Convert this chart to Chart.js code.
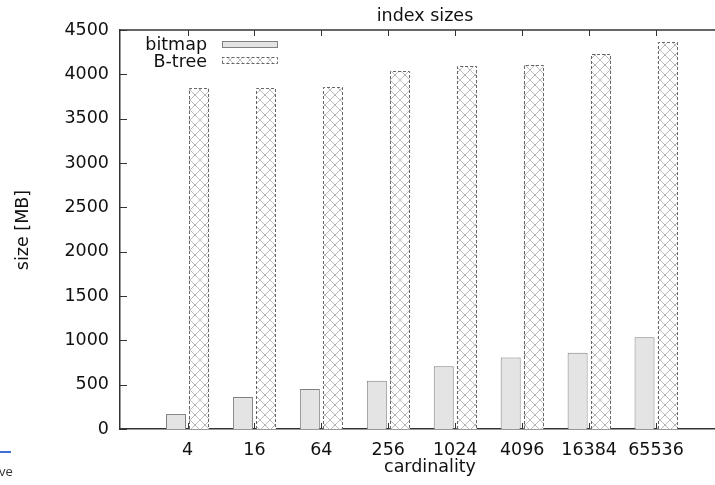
<!DOCTYPE html>
<html>
<head>
<meta charset="utf-8">
<script src="https://cdn.jsdelivr.net/npm/chart.js@4.4.1/dist/chart.umd.min.js"></script>
<style>
  html, body { margin: 0; padding: 0; background: #fff; }
  #wrap { position: relative; width: 715px; height: 485px; overflow: hidden; }
  #chart { display: block; }
  .edge-line { position: absolute; left: 0; top: 451px; width: 11px; height: 2px; background: #3d6fd6; }
  .edge-text { position: absolute; left: -1px; top: 465px; font: 13px/13px "Open Sans", sans-serif; color: #333; }
</style>
</head>
<body>
<div id="wrap">
  <canvas id="chart" width="715" height="485"></canvas>
  <div class="edge-line"></div>
  <div class="edge-text">ve</div>
</div>
<script>
const categories = ['4', '16', '64', '256', '1024', '4096', '16384', '65536'];
const bitmapSizes = [170, 360, 450, 545, 707, 805, 860, 1035];
const btreeSizes = [3843, 3843, 3858, 4034, 4091, 4102, 4230, 4362];
const yTicks = [0, 500, 1000, 1500, 2000, 2500, 3000, 3500, 4000, 4500];

const FONT = '"DejaVu Sans", sans-serif';
const FONT_SIZE = 17.5;
const AXIS_COLOR = '#333';

// crosshatch fill like gnuplot's pattern
function hatch() {
  const c = document.createElement('canvas');
  c.width = 10; c.height = 10;
  const g = c.getContext('2d');
  g.fillStyle = '#fff';
  g.fillRect(0, 0, 10, 10);
  g.strokeStyle = '#bdbdbd';
  g.lineWidth = 1;
  g.beginPath();
  g.moveTo(-1, -1); g.lineTo(11, 11);
  g.moveTo(11, -1); g.lineTo(-1, 11);
  g.stroke();
  g.fillStyle = '#a0a0a0';
  g.fillRect(4.5, 4.5, 1, 1);
  return g.createPattern(c, 'repeat');
}

const ctx0 = document.getElementById('chart');
const hatchFill = hatch();

const points = (vals) => vals.map((v, i) => ({ x: i, y: v }));

function dashedBox(ctx, l, t, r, b, withBottom) {
  ctx.save();
  ctx.strokeStyle = '#666';
  ctx.lineWidth = 1;
  ctx.setLineDash([3, 2]);
  ctx.beginPath();
  ctx.moveTo(l, b); ctx.lineTo(l, t); ctx.lineTo(r, t); ctx.lineTo(r, b);
  if (withBottom) ctx.lineTo(l, b);
  ctx.stroke();
  ctx.restore();
}

const btreeOutline = {
  id: 'btreeOutline',
  afterDatasetsDraw(chart) {
    const meta = chart.getDatasetMeta(1);
    meta.data.forEach((bar) => {
      const { x, y, width, base } = bar.getProps(['x', 'y', 'width', 'base'], true);
      const l = Math.round(x - width / 2) + 0.5;
      const r = Math.round(x + width / 2) - 0.5;
      dashedBox(chart.ctx, l, Math.round(y) + 0.5, r, base, false);
    });
  }
};

const frame = {
  id: 'frame',
  afterDraw(chart) {
    const { ctx, chartArea: a, scales: { x, y } } = chart;
    ctx.save();
    ctx.strokeStyle = AXIS_COLOR;
    ctx.lineWidth = 1.5;
    ctx.beginPath();
    ctx.moveTo(a.left, a.top); ctx.lineTo(a.right, a.top);
    ctx.stroke();

    // inward tick marks
    ctx.lineWidth = 1;
    ctx.beginPath();
    yTicks.forEach((v) => {
      const py = Math.round(y.getPixelForValue(v)) + 0.5;
      ctx.moveTo(a.left, py); ctx.lineTo(a.left + 7, py);
    });
    categories.forEach((_, i) => {
      const px = Math.round(x.getPixelForValue(i)) + 0.5;
      ctx.moveTo(px, a.top); ctx.lineTo(px, a.top + 6);
      ctx.moveTo(px, a.bottom); ctx.lineTo(px, a.bottom - 6);
    });
    ctx.stroke();

    // titles
    ctx.fillStyle = '#111';
    ctx.font = `${FONT_SIZE}px ${FONT}`;
    ctx.textAlign = 'center';
    ctx.textBaseline = 'alphabetic';
    ctx.fillText('index sizes', 425, 21);
    ctx.fillText('cardinality', 430, 472);
    ctx.save();
    ctx.translate(28, 230);
    ctx.rotate(-Math.PI / 2);
    ctx.fillText('size [MB]', 0, 0);
    ctx.restore();

    // legend, gnuplot style: label left, sample right
    const ds = chart.data.datasets;
    ctx.textAlign = 'right';
    ctx.fillText(ds[0].label, 207, 50);
    ctx.fillText(ds[1].label, 207, 67);
    ctx.fillStyle = ds[0].backgroundColor;
    ctx.fillRect(222, 41, 56, 7);
    ctx.strokeStyle = ds[0].borderColor;
    ctx.strokeRect(222.5, 41.5, 55, 6);
    ctx.fillStyle = hatchFill;
    ctx.fillRect(222, 57, 56, 7);
    ctx.restore();
    dashedBox(ctx, 222.5, 57.5, 277.5, 63.5, true);
  }
};

new Chart(ctx0, {
  type: 'bar',
  data: {
    datasets: [
      {
        label: 'bitmap',
        data: points(bitmapSizes),
        backgroundColor: '#e4e4e4',
        borderColor: '#808080',
        borderWidth: 1,
        categoryPercentage: 0.687,
        barPercentage: 0.87,
      },
      {
        label: 'B-tree',
        data: points(btreeSizes),
        backgroundColor: hatchFill,
        borderWidth: 0,
        categoryPercentage: 0.687,
        barPercentage: 0.87,
      },
    ],
  },
  options: {
    responsive: false,
    animation: false,
    devicePixelRatio: 1,
    layout: { padding: { top: 30, left: 0, right: 0, bottom: 0 } },
    plugins: {
      legend: { display: false },
      title: { display: false },
      tooltip: { enabled: false },
    },
    scales: {
      x: {
        type: 'linear',
        min: -1.0085,
        max: 7.881,
        offset: false,
        z: 1,
        grid: { display: false, drawTicks: false },
        border: { display: true, color: AXIS_COLOR, width: 1.5 },
        afterBuildTicks: (axis) => { axis.ticks = categories.map((_, i) => ({ value: i })); },
        afterFit: (axis) => { axis.height = 56; },
        ticks: {
          autoSkip: false,
          maxRotation: 0,
          padding: 11,
          color: '#111',
          font: { family: FONT, size: FONT_SIZE },
          callback: (v) => categories[v] ?? '',
        },
      },
      y: {
        min: 0,
        max: 4500,
        z: 1,
        grid: { display: false, drawTicks: false },
        border: { display: true, color: AXIS_COLOR, width: 1.5 },
        afterBuildTicks: (axis) => { axis.ticks = yTicks.map((v) => ({ value: v })); },
        afterFit: (axis) => { axis.width = 120; },
        ticks: {
          padding: 11,
          color: '#111',
          font: { family: FONT, size: FONT_SIZE },
          callback: (v) => String(v),
        },
      },
    },
  },
  plugins: [btreeOutline, frame],
});
</script>
</body>
</html>
